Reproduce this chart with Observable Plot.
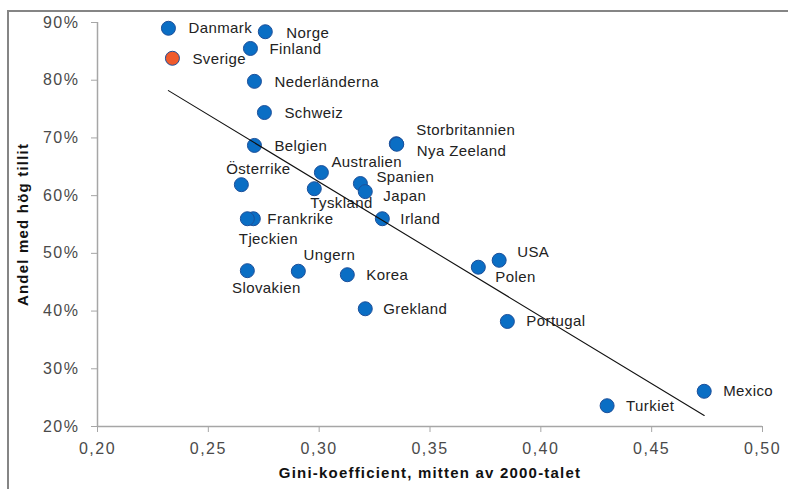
<!DOCTYPE html>
<html>
<head>
<meta charset="utf-8">
<script src="https://cdn.jsdelivr.net/npm/d3@7"></script>
<script src="https://cdn.jsdelivr.net/npm/@observablehq/plot@0.6"></script>
<style>
  html, body { margin: 0; padding: 0; background: #fff; }
  #wrap { position: relative; width: 788px; height: 489px; overflow: hidden; font-family: Arial, "Liberation Sans", sans-serif; }
  #frame { position: absolute; left: 7px; top: 10px; width: 800px; height: 500px; border-left: 2px solid #858585; border-top: 2px solid #858585; box-sizing: border-box; pointer-events: none; }
  #chart { position: absolute; left: 0; top: 0; }
  g[aria-label="x-axis tick label"] text, g[aria-label="y-axis tick label"] text { letter-spacing: 1.5px; }
  g.pt text { letter-spacing: 0.4px; }
  g.axt text { letter-spacing: 1.2px; }
</style>
</head>
<body>
<div id="wrap"><div id="chart"></div><div id="frame"></div></div>
<script>
const countries = ["Danmark","Norge","Finland","Sverige","Nederländerna","Schweiz","Belgien","Österrike","Australien","Tyskland","Spanien","Japan","Storbritannien","Nya Zeeland","Irland","Frankrike","Tjeckien","Slovakien","Ungern","Korea","Grekland","USA","Polen","Portugal","Mexico","Turkiet"];
const gini = [0.232,0.2757,0.269,0.2338,0.2708,0.2753,0.2708,0.2649,0.301,0.2978,0.3186,0.3208,0.3348,0.335,0.3285,0.2703,0.2676,0.2676,0.2906,0.3127,0.3208,0.3812,0.3718,0.3849,0.4737,0.4299];
const trust = [89.0,88.4,85.5,83.8,79.8,74.4,68.7,61.9,64.0,61.2,62.1,60.7,69.0,68.9,56.0,56.0,56.0,47.0,46.9,46.3,40.4,48.8,47.6,38.2,26.1,23.6];
const trendX = [0.232, 0.4737];
const trendY = [78.2, 21.9];
const xTicks = [0.20,0.25,0.30,0.35,0.40,0.45,0.50];
const yTicks = [20,30,40,50,60,70,80,90];
const xLabel = "Gini-koefficient, mitten av 2000-talet";
const yLabel = "Andel med hög tillit";

// label layout (pixel offsets from each point)
const labelLayout = {
  "Danmark":[20,0,"start"], "Norge":[21,1,"start"], "Finland":[19,1,"start"], "Sverige":[20,1,"start"],
  "Nederländerna":[20,1,"start"], "Schweiz":[20,1,"start"], "Belgien":[20,1,"start"],
  "Österrike":[17,-15,"middle"], "Australien":[10,-10,"start"], "Tyskland":[-4,14,"start"],
  "Spanien":[16,-6,"start"], "Japan":[18,5,"start"], "Storbritannien":[20,-14,"start"],
  "Nya Zeeland":[20,7,"start"], "Irland":[18,0,"start"], "Frankrike":[14,0,"start"],
  "Tjeckien":[21,20,"middle"], "Slovakien":[19,18,"middle"], "Ungern":[31,-16,"middle"],
  "Korea":[19,0,"start"], "Grekland":[18,0,"start"], "USA":[18,-8,"start"], "Polen":[17,10,"start"],
  "Portugal":[19,0,"start"], "Mexico":[19,0,"start"], "Turkiet":[19,0,"start"]
};

const data = countries.map((name, i) => ({name, x: gini[i], y: trust[i]}));
const trend = trendX.map((x, i) => ({x, y: trendY[i]}));

const labelMarks = data.map(d => {
  const [dx, dy, anchor] = labelLayout[d.name];
  return Plot.text([d], {x: "x", y: "y", text: "name", dx, dy, textAnchor: anchor, fontSize: 15, fill: "#222", className: "pt"});
});

const chart = Plot.plot({
  width: 788,
  height: 489,
  marginLeft: 97,
  marginRight: 26,
  marginTop: 22,
  marginBottom: 63,
  style: {fontFamily: "Arial, 'Liberation Sans', sans-serif", background: "transparent"},
  x: {domain: [0.2, 0.5]},
  y: {domain: [20, 90]},
  marks: [
    Plot.ruleX([0.2], {y1: 20, y2: 90, stroke: "#a6a6a6", strokeWidth: 1.5}),
    Plot.ruleY([20], {x1: 0.2, x2: 0.5, stroke: "#a6a6a6", strokeWidth: 1.5}),
    Plot.axisX({ticks: xTicks, tickFormat: d => d.toFixed(2).replace(".", ","), tickSize: 6, tickPadding: 10, fontSize: 16, stroke: "#a6a6a6", fill: "#4a4a4a", label: null}),
    Plot.axisY({ticks: yTicks, tickFormat: d => d + "%", tickSize: 6, tickPadding: 12, fontSize: 16, stroke: "#a6a6a6", fill: "#4a4a4a", label: null}),
    Plot.text([xLabel], {frameAnchor: "bottom", text: d => d, dy: 47, textAnchor: "middle", lineAnchor: "middle", fontSize: 15, fontWeight: "bold", fill: "#111", className: "axt"}),
    Plot.text([yLabel], {frameAnchor: "left", text: d => d, dx: -74, rotate: -90, textAnchor: "middle", lineAnchor: "middle", fontSize: 15, fontWeight: "bold", fill: "#111", className: "axt"}),
    ...labelMarks,
    Plot.dot(data, {x: "x", y: "y", r: 7, fill: d => d.name === "Sverige" ? "#ef5a2c" : "#0a6ec4", stroke: "#1c4f9a", strokeWidth: 1}),
    Plot.line(trend, {x: "x", y: "y", stroke: "#111", strokeWidth: 1.1})
  ]
});
document.getElementById("chart").appendChild(chart);
</script>
</body>
</html>
